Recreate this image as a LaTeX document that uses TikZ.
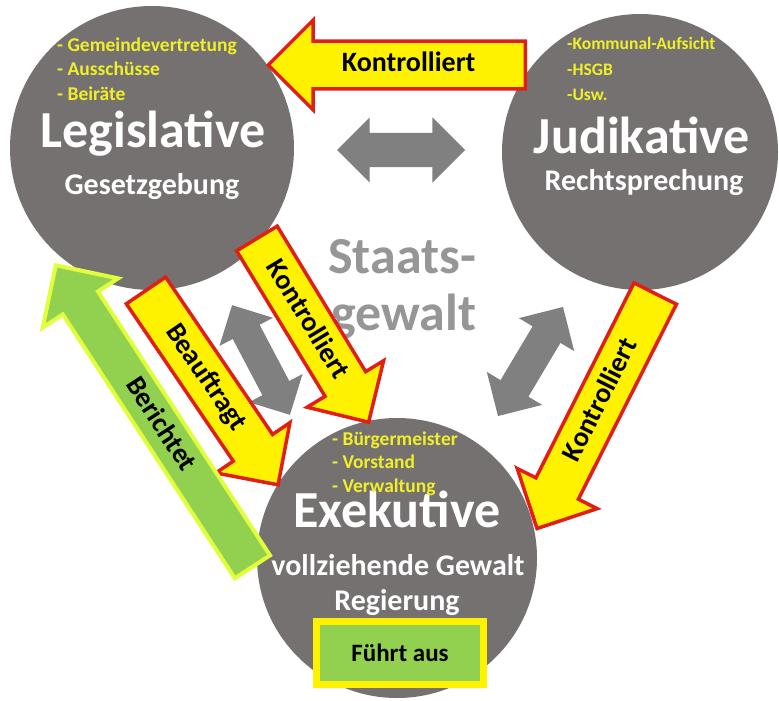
\documentclass[tikz,border=0pt]{standalone}
\usepackage{fontspec}
\setmainfont{Carlito}
\usepackage{tikz}
\usetikzlibrary{shapes.arrows}

\definecolor{circgray}{RGB}{118,113,113}
\definecolor{staatgray}{RGB}{150,150,150}
\definecolor{arrowgray}{RGB}{128,128,128}
\definecolor{itemyellow}{RGB}{240,240,40}
\definecolor{arrowred}{RGB}{225,30,20}
\definecolor{arrowgreen}{RGB}{146,208,80}
\definecolor{glowyellow}{RGB}{225,255,60}

\begin{document}
\begin{tikzpicture}
	[
	x=1pt, y=-1pt,
	circ/.style={circle, fill=circgray, inner sep=0pt},
	title/.style={text=white, font=\bfseries\fontsize{52}{52}\selectfont, anchor=base},
	subtitle/.style={text=white, font=\bfseries\fontsize{30}{30}\selectfont, anchor=base},
	item/.style={text=itemyellow, font=\bfseries\fontsize{19.5}{19.5}\selectfont, anchor=base west, inner sep=0pt},
	smallitem/.style={item, font=\bfseries\fontsize{17.5}{17.5}\selectfont},
	staat/.style={text=staatgray, font=\bfseries\fontsize{52}{52}\selectfont, anchor=base},
	labelarrow/.style={single arrow, inner xsep=0pt, text height=20pt, text depth=6pt, anchor=tail, font=\bfseries\fontsize{28}{28}\selectfont},
	redarrow/.style={labelarrow, draw=arrowred, line width=3.5pt, fill=yellow, inner ysep=9pt, single arrow head extend=21pt},
	greenarrow/.style={labelarrow, draw=glowyellow, line width=4pt, fill=arrowgreen, inner ysep=6pt, single arrow head extend=24pt},
	grayarrow/.style={double arrow, fill=arrowgray, inner xsep=0pt, text height=0pt, text depth=0pt},
	]
		\fill[white] (0,0) rectangle (779,701);
		\useasboundingbox (0,0) rectangle (779,701);
		
		% powers
		\node[circ, minimum size=284pt] (leg) at 		(152,148) {};
		\node[circ, minimum size=276pt] (jud) at 		(640,152) {};
		\node[circ, minimum size=280pt] (exe) at 		(397,558) {};
		
		% exchange between the powers
		\node[grayarrow, minimum height=128pt, inner ysep=17pt, double arrow head extend=15.5pt] (legjud) at 			(401,150) {};
		\node[grayarrow, minimum height=124pt, inner ysep=15pt, double arrow head extend=15pt, rotate=-62.2] (legexe) at 	(261,360) {};
		\node[grayarrow, minimum height=127pt, inner ysep=16pt, double arrow head extend=16pt, rotate=59.2] (judexe) at 	(530.5,361.5) {};
		
		% centre
		\node[staat] (staats) at 		(402,273) {Staats-};
		\node[staat] (gewalt) at 		(404,330) {gewalt};
		
		% legislative
		\node[title] (legt) at 		(153,147) {Legislative};
		\node[subtitle] (legs) at 	(152,194) {Gesetzgebung};
		\foreach \i/\y/\t in {1/52/{- Gemeindevertretung},2/76/{- Ausschüsse},3/100/{- Beiräte}}
			\node[item] (legb\i) at (57,\y) {\t};
		
		% judicative
		\node[title] (judt) at 		(642,153) {Judikative};
		\node[subtitle] (juds) at 	(644,190) {Rechtsprechung};
		\foreach \i/\y/\t in {1/50/{-Kommunal-Aufsicht},2/75/{-HSGB},3/100/{-Usw.}}
			\node[smallitem] (judb\i) at (567,\y) {\t};
		
		% executive
		\node[title] (exet) at 		(397,527) {Exekutive};
		\node[subtitle] (exes) at 	(398,575) {vollziehende Gewalt};
		\node[subtitle] (exer) at 	(397,610) {Regierung};
		\foreach \i/\y/\t in {1/445/{- Bürgermeister},2/468/{- Vorstand},3/492/{- Verwaltung}}
			\node[item] (exeb\i) at (332,\y) {\t};
		
		% control and orders
		\node[redarrow, minimum height=257pt, shape border rotate=180] (kontjud) at 			(527,65) {Kontrolliert};
		\node[redarrow, minimum height=235pt, rotate=-55.8] (beauf) at 						(145,289) {Beauftragt};
		\node[redarrow, minimum height=215pt, rotate=-58.7] (kontleg) at 					(256,237) {Kontrolliert};
		\node[redarrow, minimum height=263pt, rotate=63.3, shape border rotate=180] (kontexe) at 	(656,292) {Kontrolliert};
		\node[greenarrow, minimum height=360pt, rotate=-56.9, shape border rotate=180] (bericht) at (253.5,568.5) {Berichtet};
		
		% executes
		\node[draw=yellow, line width=7pt, fill=arrowgreen, minimum width=167pt, minimum height=63pt, font=\bfseries\fontsize{25}{25}\selectfont] (fuehrt) at (400,653) {Führt aus};
		
	\end{tikzpicture}
\end{document}
